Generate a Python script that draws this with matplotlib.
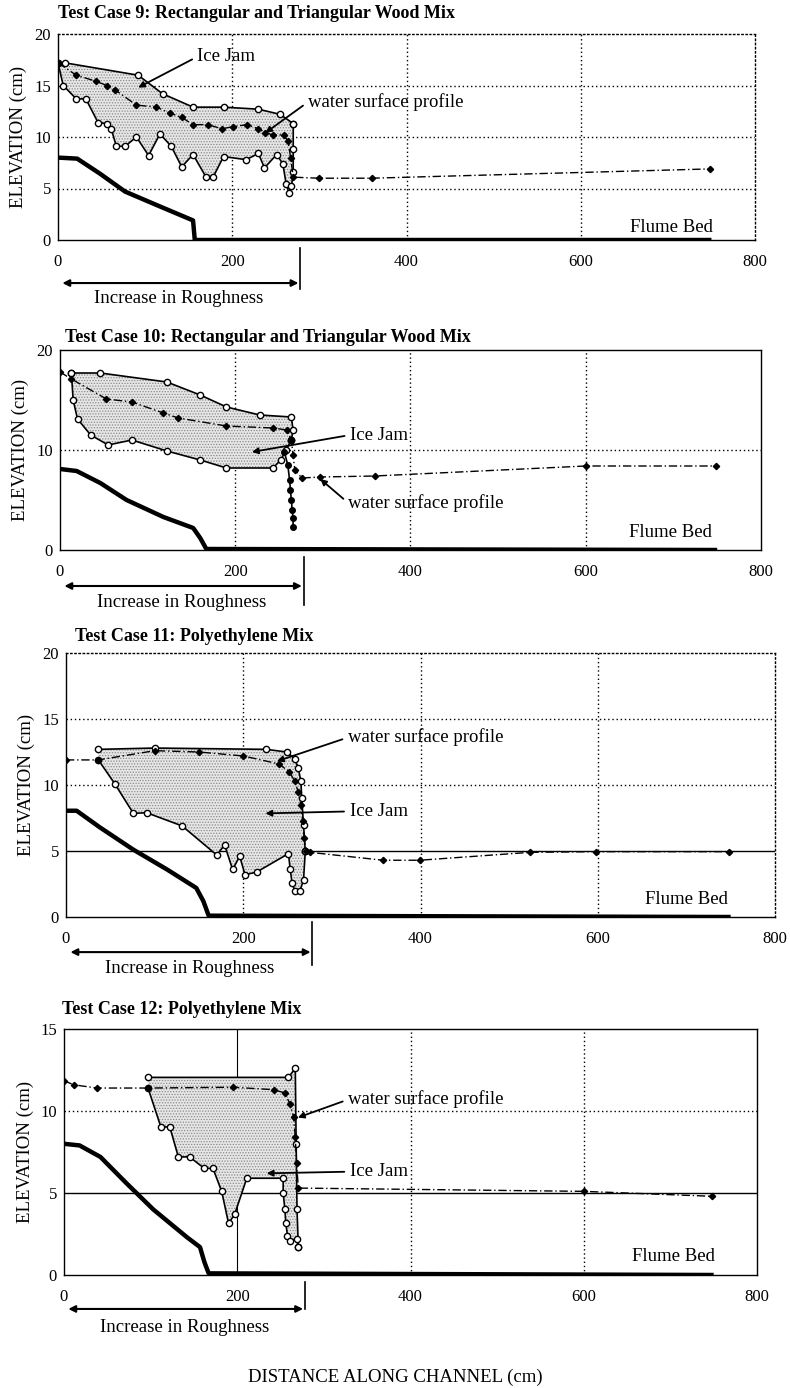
import matplotlib
matplotlib.use("Agg")
from matplotlib import pyplot as plt

plt.rcParams['font.family'] = ['Liberation Serif', 'DejaVu Serif']
plt.rcParams['hatch.linewidth'] = 0.6

# ---- Test Case 9 ----
tc9_bed_x = [0, 22, 48, 77, 113, 155, 157, 750]
tc9_bed_y = [8.0, 7.9, 6.45, 4.7, 3.4, 1.9, 0.0, 0.0]
tc9_top_x = [0, 8, 92, 120, 155, 190, 230, 255, 270]
tc9_top_y = [17.2, 17.2, 16.0, 14.2, 12.9, 12.9, 12.7, 12.2, 11.3]
tc9_bot_x = [0, 6, 21, 32, 46, 56, 61, 67, 77, 90, 104, 117, 130, 142, 155, 170, 178, 190,
             216, 230, 237, 251, 258, 262, 265, 268, 270, 270, 270]
tc9_bot_y = [17.2, 15.0, 13.7, 13.7, 11.4, 11.3, 10.8, 9.1, 9.1, 10.0, 8.2, 10.3, 9.1, 7.1, 8.3, 6.1,
             6.1, 8.1, 7.8, 8.4, 7.0, 8.3, 7.4, 5.4, 4.6, 5.2, 6.6, 8.8, 11.3]
tc9_ws_x = [0, 21, 44, 56, 65, 90, 113, 129, 142, 155, 172, 188, 201, 217, 230, 238, 247, 259,
            264, 267, 270, 299, 360, 748]
tc9_ws_y = [17.2, 16.0, 15.4, 15.0, 14.6, 13.1, 12.9, 12.3, 11.9, 11.2, 11.2, 10.8, 11.0, 11.2,
            10.8, 10.4, 10.2, 10.2, 9.6, 8.0, 6.1, 6.0, 6.0, 6.9]

# ---- Test Case 10 ----
tc10_bed_x = [0, 19, 46, 76, 118, 152, 160, 167, 750]
tc10_bed_y = [8.1, 7.9, 6.7, 5.0, 3.3, 2.2, 1.2, 0.1, 0.0]
tc10_top_x = [13, 46, 122, 160, 190, 228, 264, 266, 264]
tc10_top_y = [17.7, 17.7, 16.8, 15.5, 14.3, 13.5, 13.3, 12.0, 11.0]
tc10_bot_x = [13, 15, 20, 35, 55, 82, 122, 160, 190, 243, 252, 258, 264]
tc10_bot_y = [17.7, 15.0, 13.1, 11.5, 10.5, 11.0, 9.9, 9.0, 8.2, 8.2, 9.0, 10.0, 11.0]
tc10_toe_x = [256, 260, 262, 263, 264, 265, 266, 266]
tc10_toe_y = [9.8, 8.5, 7.0, 6.0, 5.0, 4.0, 3.2, 2.3]
tc10_ws_x = [0, 13, 53, 82, 118, 135, 190, 243, 259, 264, 266, 268, 276, 297, 359, 600, 749]
tc10_ws_y = [17.8, 17.1, 15.1, 14.8, 13.7, 13.2, 12.4, 12.2, 12.0, 11.0, 9.5, 8.0, 7.2, 7.3, 7.4,
             8.4, 8.4]

# ---- Test Case 11 ----
tc11_bed_x = [0, 12, 38, 76, 114, 147, 155, 161, 750]
tc11_bed_y = [8.05, 8.05, 6.8, 5.1, 3.6, 2.2, 1.2, 0.1, 0.0]
tc11_top_x = [36.5, 100, 226, 249, 258, 262, 265, 266, 268, 270]
tc11_top_y = [12.7, 12.8, 12.7, 12.5, 12.0, 11.3, 10.3, 9.0, 7.0, 5.0]
tc11_bot_x = [36.5, 55, 76, 91, 131, 170, 179, 188, 196, 202, 215, 251, 253, 255, 258, 264, 268, 270]
tc11_bot_y = [11.9, 10.1, 7.85, 7.9, 6.9, 4.7, 5.45, 3.6, 4.6, 3.2, 3.4, 4.8, 3.6, 2.6, 2.0, 2.0,
              2.8, 5.0]
tc11_ws_x = [0, 36.5, 100, 150, 200, 240, 252, 258, 262, 265, 267, 269, 271, 275, 358, 399, 524,
             598, 748]
tc11_ws_y = [11.9, 11.9, 12.6, 12.5, 12.2, 11.6, 11.0, 10.3, 9.5, 8.5, 7.3, 6.0, 5.0, 4.9, 4.3, 4.3,
             4.9, 4.95, 4.95]

# ---- Test Case 12 ----
tc12_bed_x = [0, 18, 42, 72, 103, 142, 157, 162, 167, 750]
tc12_bed_y = [8.0, 7.9, 7.2, 5.6, 4.0, 2.3, 1.7, 0.8, 0.1, 0.0]
tc12_top_x = [97, 259, 267, 268, 269, 270.5]
tc12_top_y = [12.05, 12.05, 12.6, 8.0, 4.0, 1.7]
tc12_bot_x = [97, 112, 122, 132, 145, 162, 172, 182, 190, 197, 211, 253, 253, 255, 256, 258, 261,
              268.5, 270.5]
tc12_bot_y = [11.4, 9.0, 9.05, 7.2, 7.2, 6.5, 6.5, 5.1, 3.15, 3.7, 5.9, 5.9, 5.0, 4.0, 3.2, 2.4,
              2.1, 2.2, 1.7]
tc12_ws_x = [0, 11, 38, 97, 195, 242, 255, 261, 265, 267, 268.5, 270.5, 600, 748]
tc12_ws_y = [11.85, 11.6, 11.4, 11.4, 11.45, 11.3, 11.1, 10.4, 9.65, 8.4, 6.8, 5.3, 5.1, 4.8]

titles = ["Test Case 9: Rectangular and Triangular Wood Mix",
          "Test Case 10: Rectangular and Triangular Wood Mix",
          "Test Case 11: Polyethylene Mix",
          "Test Case 12: Polyethylene Mix"]
x_ticks = [0, 200, 400, 600, 800]
roughness_end = 278

DOT = (0, (1, 2))


def draw_case(ax, bed, top, bot, ws, ylim, yticks):
    # shaded ice jam between the upper and lower boundaries
    ax.fill(list(top[0]) + list(bot[0])[::-1], list(top[1]) + list(bot[1])[::-1],
            facecolor='#e6e6e6', hatch='......', edgecolor='#8a8a8a', linewidth=0, zorder=1)
    ax.plot(bed[0], bed[1], color='k', lw=3.2, solid_capstyle='butt', zorder=4)
    ax.plot(top[0], top[1], color='k', lw=1.2, marker='o', ms=4.5, mfc='white', mec='k',
            mew=1, zorder=3)
    ax.plot(bot[0], bot[1], color='k', lw=1.2, marker='o', ms=4.5, mfc='white', mec='k',
            mew=1, zorder=3)
    ax.plot(ws[0], ws[1], color='k', lw=1.0, dashes=(6, 2, 1, 2), marker='D', ms=3.2,
            mfc='k', mec='k', zorder=3)
    ax.set_xlim(0, 800)
    ax.set_ylim(*ylim)
    ax.set_xticks(x_ticks)
    ax.set_yticks(yticks)
    ax.tick_params(length=0, labelsize=12)
    ax.tick_params(axis='x', pad=10)
    ax.tick_params(axis='y', pad=5)
    ax.set_ylabel("ELEVATION (cm)", fontsize=13.5)
    ax.yaxis.set_label_coords(-0.044, 0.5)
    for s in ax.spines.values():
        s.set_linewidth(1.0)


def roughness(ax, y_arrow, y_text, bar):
    tr = ax.get_xaxis_transform()
    ax.annotate('', xy=(5, y_arrow), xytext=(roughness_end - 2, y_arrow), xycoords=tr,
                textcoords=tr, annotation_clip=False,
                arrowprops=dict(arrowstyle='<|-|>', color='k', lw=1.5,
                                mutation_scale=10, shrinkA=0, shrinkB=0))
    ax.text(roughness_end / 2, y_text, "Increase in Roughness", transform=tr, ha='center',
            va='center', fontsize=13.5)
    ax.plot([roughness_end, roughness_end], bar, transform=tr, color='k', lw=1.2,
            clip_on=False)


def label(ax, text, xy, xytext):
    ax.annotate(text, xy=xy, xytext=xytext, ha='left', va='center', fontsize=13.5,
                arrowprops=dict(arrowstyle='-|>', color='k', lw=1.3, mutation_scale=9,
                                relpos=(0, 0.5), shrinkA=2, shrinkB=0), zorder=6)


fig = plt.figure(figsize=(7.9, 13.88), dpi=100)
W, H = 790, 1388

# ---------- panel 1 ----------
ax1 = fig.add_axes([58 / W, 1 - 240 / H, 697 / W, 206 / H])
for y in [5, 10, 15]:
    ax1.axhline(y, color='k', lw=1, ls=DOT, zorder=0)
for x in [200, 400, 600]:
    ax1.axvline(x, color='k', lw=1, ls=DOT, zorder=0)
ax1.spines['top'].set_linestyle(DOT)
ax1.spines['right'].set_linestyle(DOT)
draw_case(ax1, (tc9_bed_x, tc9_bed_y), (tc9_top_x, tc9_top_y), (tc9_bot_x, tc9_bot_y),
          (tc9_ws_x, tc9_ws_y), (0, 20), [0, 5, 10, 15, 20])
label(ax1, "Ice Jam", (92, 14.8), (160, 17.8))
label(ax1, "water surface profile", (238, 10.4), (287, 13.4))
ax1.text(752, 1.2, "Flume Bed", ha='right', va='center', fontsize=13.5)
roughness(ax1, -0.209, -0.285, [-0.04, -0.24])

# ---------- panel 2 ----------
ax2 = fig.add_axes([60 / W, 1 - 550 / H, 701 / W, 200 / H])
ax2.axhline(10, color='k', lw=1, ls=DOT, zorder=0)
for x in [200, 400, 600]:
    ax2.axvline(x, color='k', lw=1, ls=DOT, zorder=0)
draw_case(ax2, (tc10_bed_x, tc10_bed_y), (tc10_top_x, tc10_top_y), (tc10_bot_x, tc10_bot_y),
          (tc10_ws_x, tc10_ws_y), (0, 20), [0, 10, 20])
ax2.plot(tc10_toe_x, tc10_toe_y, color='k', lw=1.2, marker='o', ms=4, mfc='k', mec='k', zorder=3)
label(ax2, "Ice Jam", (219, 9.8), (331, 11.5))
label(ax2, "water surface profile", (297, 7.1), (329, 4.7))
ax2.text(744, 1.7, "Flume Bed", ha='right', va='center', fontsize=13.5)
roughness(ax2, -0.18, -0.265, [-0.035, -0.275])

# ---------- panel 3 ----------
ax3 = fig.add_axes([66 / W, 1 - 917 / H, 709 / W, 264 / H])
for y in [10, 15]:
    ax3.axhline(y, color='k', lw=1, ls=DOT, zorder=0)
ax3.axhline(5, color='k', lw=1, zorder=0)
for x in [200, 400, 600]:
    ax3.axvline(x, color='k', lw=1, ls=DOT, zorder=0)
ax3.spines['top'].set_linestyle(DOT)
ax3.spines['right'].set_linestyle(DOT)
draw_case(ax3, (tc11_bed_x, tc11_bed_y), (tc11_top_x, tc11_top_y), (tc11_bot_x, tc11_bot_y),
          (tc11_ws_x, tc11_ws_y), (0, 20), [0, 5, 10, 15, 20])
label(ax3, "water surface profile", (238, 11.8), (318, 13.6))
label(ax3, "Ice Jam", (225, 7.85), (320, 8.0))
ax3.text(747, 1.3, "Flume Bed", ha='right', va='center', fontsize=13.5)
roughness(ax3, -0.133, -0.195, [-0.02, -0.18])

# ---------- panel 4 ----------
ax4 = fig.add_axes([64 / W, 1 - 1275 / H, 693 / W, 246 / H])
ax4.axhline(10, color='k', lw=1, ls=DOT, zorder=0)
ax4.axhline(5, color='k', lw=1, zorder=0)
ax4.axvline(200, color='k', lw=0.8, zorder=0)
for x in [400, 600]:
    ax4.axvline(x, color='k', lw=1, ls=DOT, zorder=0)
draw_case(ax4, (tc12_bed_x, tc12_bed_y), (tc12_top_x, tc12_top_y), (tc12_bot_x, tc12_bot_y),
          (tc12_ws_x, tc12_ws_y), (0, 15), [0, 5, 10, 15])
label(ax4, "water surface profile", (270, 9.6), (328, 10.7))
label(ax4, "Ice Jam", (234, 6.2), (330, 6.3))
ax4.text(751, 1.1, "Flume Bed", ha='right', va='center', fontsize=13.5)
roughness(ax4, -0.138, -0.215, [-0.03, -0.14])

# titles
title_pos = [(58, 13), (65, 337), (75, 636), (62, 1010)]
for t, (px, py) in zip(titles, title_pos):
    fig.text(px / W, 1 - py / H, t, ha='left', va='center', fontsize=13, fontweight='bold')

fig.text(0.5, 1 - 1377 / H, "DISTANCE ALONG CHANNEL (cm)", ha='center', va='center',
         fontsize=13.5)

fig.savefig("out.png", dpi=100)
